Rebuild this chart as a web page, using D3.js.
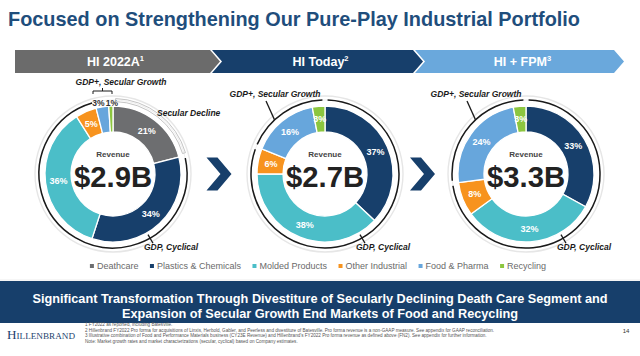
<!DOCTYPE html>
<html><head><meta charset="utf-8">
<script src="https://cdn.jsdelivr.net/npm/d3@7/dist/d3.min.js"></script>
<style>html,body{margin:0;padding:0;background:#fff;} svg{display:block;font-family:"Liberation Sans",Arial,sans-serif;}</style>
</head><body><svg id="c" width="640" height="356"></svg>
<script>
// ---------- data ----------
const categories = ["Deathcare","Plastics & Chemicals","Molded Products","Other Industrial","Food & Pharma","Recycling"];
const categoryColors = ["#6d6e70","#173f6b","#4bbec8","#f7931e","#67a6dc","#8cc63f"];
const panelTitles = ["HI 2022A","HI Today","HI + FPM"];
const panelNotes = ["1","2","3"];
const revenueLabels = ["$2.9B","$2.7B","$3.3B"];
const valuesHI2022A = [21,34,36,5,3,1];
const valuesHIToday = [0,37,38,6,16,3];
const valuesHIFPM  = [0,33,32,8,24,3];
const cyclicalCats = ["Plastics & Chemicals","Molded Products","Other Industrial"];
const growthCats = ["Food & Pharma","Recycling"];
const declineCats = ["Deathcare"];
const titleText = "Focused on Strengthening Our Pure-Play Industrial Portfolio";
const bandLines = ["Significant Transformation Through Divestiture of Secularly Declining Death Care Segment and",
                   "Expansion of Secular Growth End Markets of Food and Recycling"];
const footnotes = ["1 FY2022 as reported, including Batesville.",
 "2 Hillenbrand FY2022 Pro forma for acquisitions of Linxis, Herbold, Gabler, and Peerless and divestiture of Batesville. Pro forma revenue is a non-GAAP measure. See appendix for GAAP reconciliation.",
 "3 Illustrative combination of Food and Performance Materials business (CY23E Revenue) and Hillenbrand\u2019s FY2022 Pro forma revenue as defined above (FN2). See appendix for further information.",
 "Note: Market growth rates and market characterizations (secular, cyclical) based on Company estimates."];

const seriesList = [valuesHI2022A, valuesHIToday, valuesHIFPM];

// ---------- setup ----------
const svg = d3.select("#c");
const color = d3.scaleOrdinal().domain(categories).range(categoryColors);
const deg = Math.PI/180;
const NAVY = "#173f6b";

// title
svg.append("text").attr("x",8).attr("y",26).attr("font-size",21).attr("font-weight","bold")
  .attr("fill","#1f4e7c").attr("textLength",572).attr("lengthAdjust","spacingAndGlyphs").text(titleText);

// banner chevrons
const bTop=50, bBot=73, bMid=(bTop+bBot)/2, tip=10;
const banners = [
  {x0:15, x1:210, notch:false, fill:"#6b6b6b"},
  {x0:212, x1:413, notch:true, fill:NAVY},
  {x0:415, x1:614, notch:true, fill:"#6aa8dc"}
];
banners.forEach((b,i)=>{
  const pts = [[b.x0,bTop],[b.x1,bTop],[b.x1+tip,bMid],[b.x1,bBot],[b.x0,bBot]];
  if(b.notch) pts.push([b.x0+tip,bMid]);
  svg.append("path").attr("d", d3.line()(pts)+"Z").attr("fill",b.fill);
  const cxT = (b.x0 + b.x1 + tip + (b.notch?tip:0))/2 - 2;
  const t = svg.append("text").attr("x",cxT).attr("y",66).attr("text-anchor","middle")
    .attr("font-size",12.5).attr("font-weight","bold").attr("fill","#fff");
  t.append("tspan").text(panelTitles[i]);
  t.append("tspan").attr("dy",-5).attr("font-size",7.5).text(panelNotes[i]);
});

// donuts
const centers = [113, 325, 526], cy = 174;
const rOuter = 68, rInner = 42, rRing = 74, rFaint = 78;
const pie = d3.pie().sort(null).value(d=>d.v);
const arc = d3.arc().innerRadius(rInner).outerRadius(rOuter);
const lineArc = d3.arc().innerRadius(rRing).outerRadius(rRing);

function groupSpan(arcs, cats){
  const sel = arcs.filter(a=>cats.includes(a.data.c));
  if(!sel.length) return null;
  return [d3.min(sel,a=>a.startAngle), d3.max(sel,a=>a.endAngle)];
}

seriesList.forEach((vals, k)=>{
  const cx = centers[k];
  const g = svg.append("g").attr("transform",`translate(${cx},${cy})`);
  const data = categories.map((c,i)=>({c, v:vals[i]})).filter(d=>d.v>0);
  const arcs = pie(data);

  // faint outer circles
  g.append("circle").attr("r",rFaint).attr("fill","none").attr("stroke","#e6e6e6").attr("stroke-width",1.4);
  g.append("circle").attr("r",rRing).attr("fill","none").attr("stroke","#efefef").attr("stroke-width",1);

  g.selectAll("path.slice").data(arcs).join("path").attr("class","slice")
    .attr("d",arc).attr("fill",d=>color(d.data.c)).attr("stroke","#fff").attr("stroke-width",1.3);

  // labels
  arcs.forEach(a=>{
    const inside = !(k===0 && a.data.v < 4);
    if(inside){
      const [x,y] = arc.centroid(a);
      g.append("text").attr("x",x).attr("y",y+3.2).attr("text-anchor","middle")
        .attr("font-size",9).attr("font-weight","bold").attr("fill","#fff").text(a.data.v+"%");
    }
  });
  if(k===0){
    const small = arcs.filter(a=>a.data.v<4);
    small.forEach((a,j)=>{
      g.append("text").attr("x", j===0 ? -14.5 : -1).attr("y",-68).attr("text-anchor","middle")
        .attr("font-size",8.5).attr("font-weight","bold").attr("fill","#333").text(a.data.v+"%");
    });
  }

  // center text
  g.append("text").attr("y",-17).attr("text-anchor","middle").attr("font-size",8)
    .attr("font-weight","bold").attr("fill","#444").text("Revenue");
  g.append("text").attr("x",0).attr("y",13).attr("text-anchor","middle").attr("font-size",30)
    .attr("font-weight","bold").attr("fill","#222").attr("textLength",78)
    .attr("lengthAdjust","spacingAndGlyphs").text(revenueLabels[k]);

  const pad = 2*deg;
  // cyclical arc
  const cyc = groupSpan(arcs, cyclicalCats);
  g.append("path").attr("d", lineArc({startAngle:cyc[0]+pad, endAngle:cyc[1]-pad}))
    .attr("fill","none").attr("stroke","#1a1a1a").attr("stroke-width",1.5);
  const tA = 150*deg;
  g.append("line").attr("x1",70*Math.sin(tA)).attr("y1",-70*Math.cos(tA))
    .attr("x2",80*Math.sin(tA)).attr("y2",-80*Math.cos(tA)).attr("stroke","#1a1a1a").attr("stroke-width",1.3);
  g.append("text").attr("x",31).attr("y",76).attr("font-size",8.5).attr("font-weight","bold")
    .attr("font-style","italic").attr("fill","#1a1a1a").text("GDP, Cyclical");

  // decline arc
  const dec = groupSpan(arcs, declineCats);
  if(dec){
    g.append("path").attr("d", d3.arc().innerRadius(rRing-1.5).outerRadius(rRing+1.5)({startAngle:dec[0]+pad, endAngle:dec[1]-pad}))
      .attr("fill","none").attr("stroke","#b5b5b5").attr("stroke-width",0.8);
    g.append("text").attr("x",44).attr("y",-58).attr("font-size",8.5).attr("font-weight","bold")
      .attr("font-style","italic").attr("fill","#1a1a1a").text("Secular Decline");
  }

  // growth
  const gr = groupSpan(arcs, growthCats);
  if((gr[1]-gr[0]) < 30*deg){
    const by = -83;
    g.append("path").attr("d", `M-20,${by+3}V${by}H-1V${by+3}M-10.5,${by}V${by-3}`)
      .attr("fill","none").attr("stroke","#1a1a1a").attr("stroke-width",1);
    g.append("text").attr("x",8).attr("y",-89).attr("text-anchor","middle").attr("font-size",8.5)
      .attr("font-weight","bold").attr("font-style","italic").attr("fill","#1a1a1a").text("GDP+, Secular Growth");
  } else {
    g.append("path").attr("d", lineArc({startAngle:gr[0]+pad, endAngle:gr[1]-pad}))
      .attr("fill","none").attr("stroke","#1a1a1a").attr("stroke-width",1.5);
    const pa = 317*deg;
    g.append("line").attr("x1",rRing*Math.sin(pa)).attr("y1",-rRing*Math.cos(pa))
      .attr("x2",-59).attr("y2",-73).attr("stroke","#1a1a1a").attr("stroke-width",1.3);
    g.append("text").attr("x",-50).attr("y",-77).attr("text-anchor","middle").attr("font-size",8.5)
      .attr("font-weight","bold").attr("font-style","italic").attr("fill","#1a1a1a").text("GDP+, Secular Growth");
  }
});

// separator chevrons
[ (centers[0]+centers[1])/2, (centers[1]+centers[2])/2 - 3 ].forEach(mx=>{
  const x0 = mx-12.5, h=16.5;
  const pts=[[x0,cy-h],[x0+11,cy-h],[x0+25,cy],[x0+11,cy+h],[x0,cy+h],[x0+14,cy]];
  svg.append("path").attr("d",d3.line()(pts)+"Z").attr("fill",NAVY);
});

// legend
const leg = svg.append("g");
let lx = 0;
categories.forEach(c=>{
  const it = leg.append("g").attr("transform",`translate(${lx},0)`);
  it.append("rect").attr("x",0).attr("y",-6).attr("width",4).attr("height",4).attr("fill",color(c));
  const t = it.append("text").attr("x",7).attr("y",-1).attr("font-size",9).attr("fill","#6a6a6a").text(c);
  lx += 7 + t.node().getComputedTextLength() + 11.5;
});
const legW = lx - 11.5;
leg.attr("transform",`translate(${318 - legW/2},270)`);

// faint separator
svg.append("line").attr("x1",0).attr("x2",640).attr("y1",280).attr("y2",280).attr("stroke","#ececec");

// bottom band
svg.append("rect").attr("x",0).attr("y",281).attr("width",640).attr("height",42).attr("fill",NAVY);
svg.append("text").attr("x",320).attr("y",303).attr("text-anchor","middle").attr("font-size",13)
  .attr("font-weight","bold").attr("fill","#fff").attr("textLength",575).attr("lengthAdjust","spacingAndGlyphs").text(bandLines[0]);
svg.append("text").attr("x",320).attr("y",318).attr("text-anchor","middle").attr("font-size",13)
  .attr("font-weight","bold").attr("fill","#fff").attr("textLength",396).attr("lengthAdjust","spacingAndGlyphs").text(bandLines[1]);

// footer
svg.append("text").attr("x",7).attr("y",339).attr("font-family","'Liberation Serif','Times New Roman',serif")
  .attr("font-size",11.5).attr("font-variant","small-caps").attr("fill","#1d3f6e").attr("textLength",68)
  .attr("lengthAdjust","spacingAndGlyphs").text("Hillenbrand");
footnotes.forEach((f,i)=>{
  svg.append("text").attr("x",85).attr("y",326+i*5.5).attr("font-size",4.6).attr("fill","#555").text(f);
});
svg.append("text").attr("x",626).attr("y",333).attr("text-anchor","middle").attr("font-size",6).attr("fill","#333").text("14");
</script></body></html>
